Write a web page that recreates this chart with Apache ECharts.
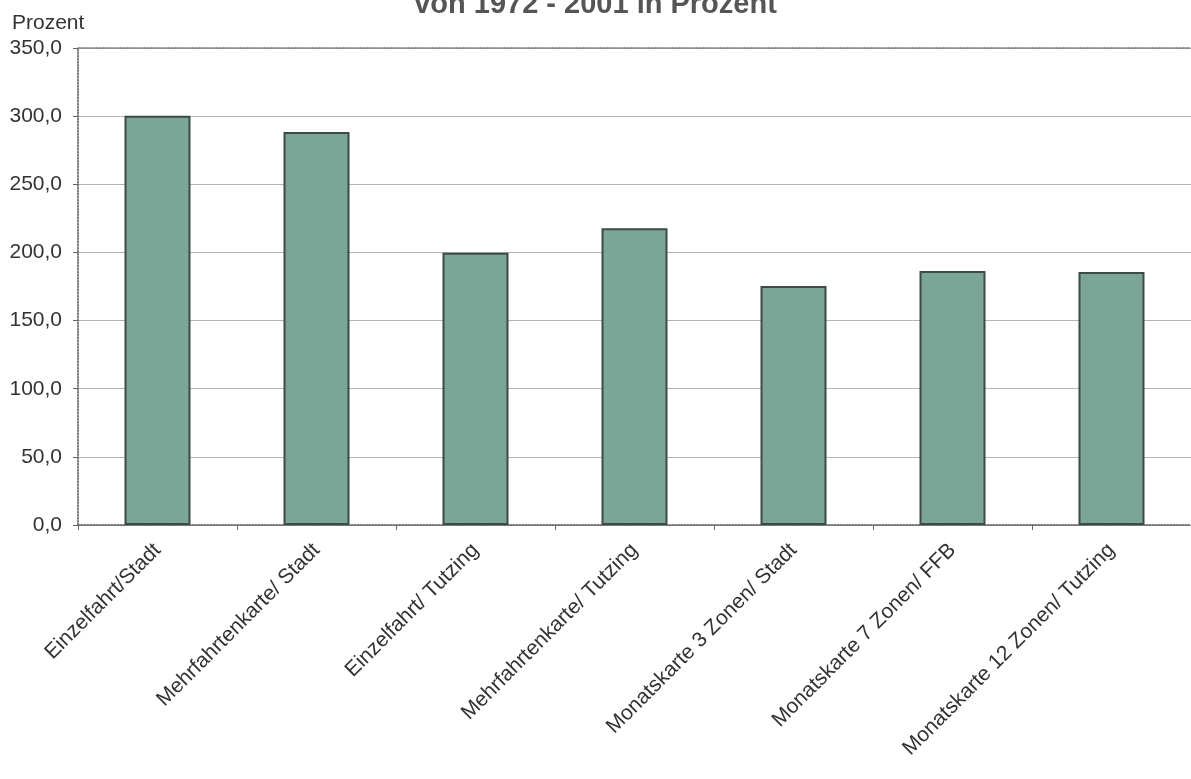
<!DOCTYPE html>
<html>
<head>
<meta charset="utf-8">
<script src="https://cdn.jsdelivr.net/npm/echarts@6/dist/echarts.min.js"></script>
<style>
html,body{margin:0;padding:0;background:#fff;}
#chart{width:1191px;height:779px;}
</style>
</head>
<body>
<div id="chart"></div>
<script>
var categories = ["Einzelfahrt/Stadt", "Mehrfahrtenkarte/ Stadt", "Einzelfahrt/ Tutzing", "Mehrfahrtenkarte/ Tutzing", "Monatskarte 3 Zonen/ Stadt", "Monatskarte 7 Zonen/ FFB", "Monatskarte 12 Zonen/ Tutzing"];
var values = [300.2, 288.4, 199.8, 217.8, 175.3, 186.4, 185.6];
var titleText = "von 1972 - 2001 in Prozent";
var yAxisName = "Prozent";

var chart = echarts.init(document.getElementById('chart'));
var font = "Liberation Sans, Arial, sans-serif";
chart.setOption({
  backgroundColor: '#ffffff',
  animation: false,
  title: {
    text: titleText,
    left: 'center',
    top: -15,
    textStyle: {fontFamily: font, fontSize: 29, fontWeight: 'bold', color: '#555555'}
  },
  grid: {left: 78, right: -4, top: 48, bottom: 254, containLabel: false},
  xAxis: [{
    type: 'category',
    data: categories,
    boundaryGap: true,
    axisLine: {show: true, lineStyle: {color: '#555555', type: 'dotted', width: 1.5}},
    axisTick: {show: true, alignWithLabel: false, length: 5, lineStyle: {color: '#666666'}},
    axisLabel: {rotate: 45, fontFamily: font, fontSize: 21, color: '#333333', margin: 22, interval: 0},
    splitLine: {show: false}
  }, {
    type: 'category',
    position: 'top',
    data: categories,
    axisLine: {show: true, lineStyle: {color: '#777777', type: 'dotted', width: 1.5}},
    axisTick: {show: false},
    axisLabel: {show: false}
  }],
  yAxis: {
    type: 'value',
    min: 0, max: 350, interval: 50,
    name: yAxisName,
    nameLocation: 'end',
    nameGap: 14,
    nameTextStyle: {fontFamily: font, fontSize: 21, color: '#333333', align: 'left', padding: [0, 0, 0, -66]},
    axisLine: {show: true, lineStyle: {color: '#555555', type: 'dotted', width: 1.5}},
    axisTick: {show: true, length: 5, lineStyle: {color: '#666666'}},
    axisLabel: {fontFamily: font, fontSize: 21, color: '#333333', margin: 16,
      formatter: function (v) { return v.toFixed(1).replace('.', ','); }},
    splitLine: {show: true, lineStyle: {color: '#b4b4b4', width: 1}}
  },
  series: [{
    type: 'bar',
    data: values,
    barWidth: 66,
    itemStyle: {color: '#7ba596', borderColor: '#3d4b45', borderWidth: 2}
  }]
});
</script>
</body>
</html>
